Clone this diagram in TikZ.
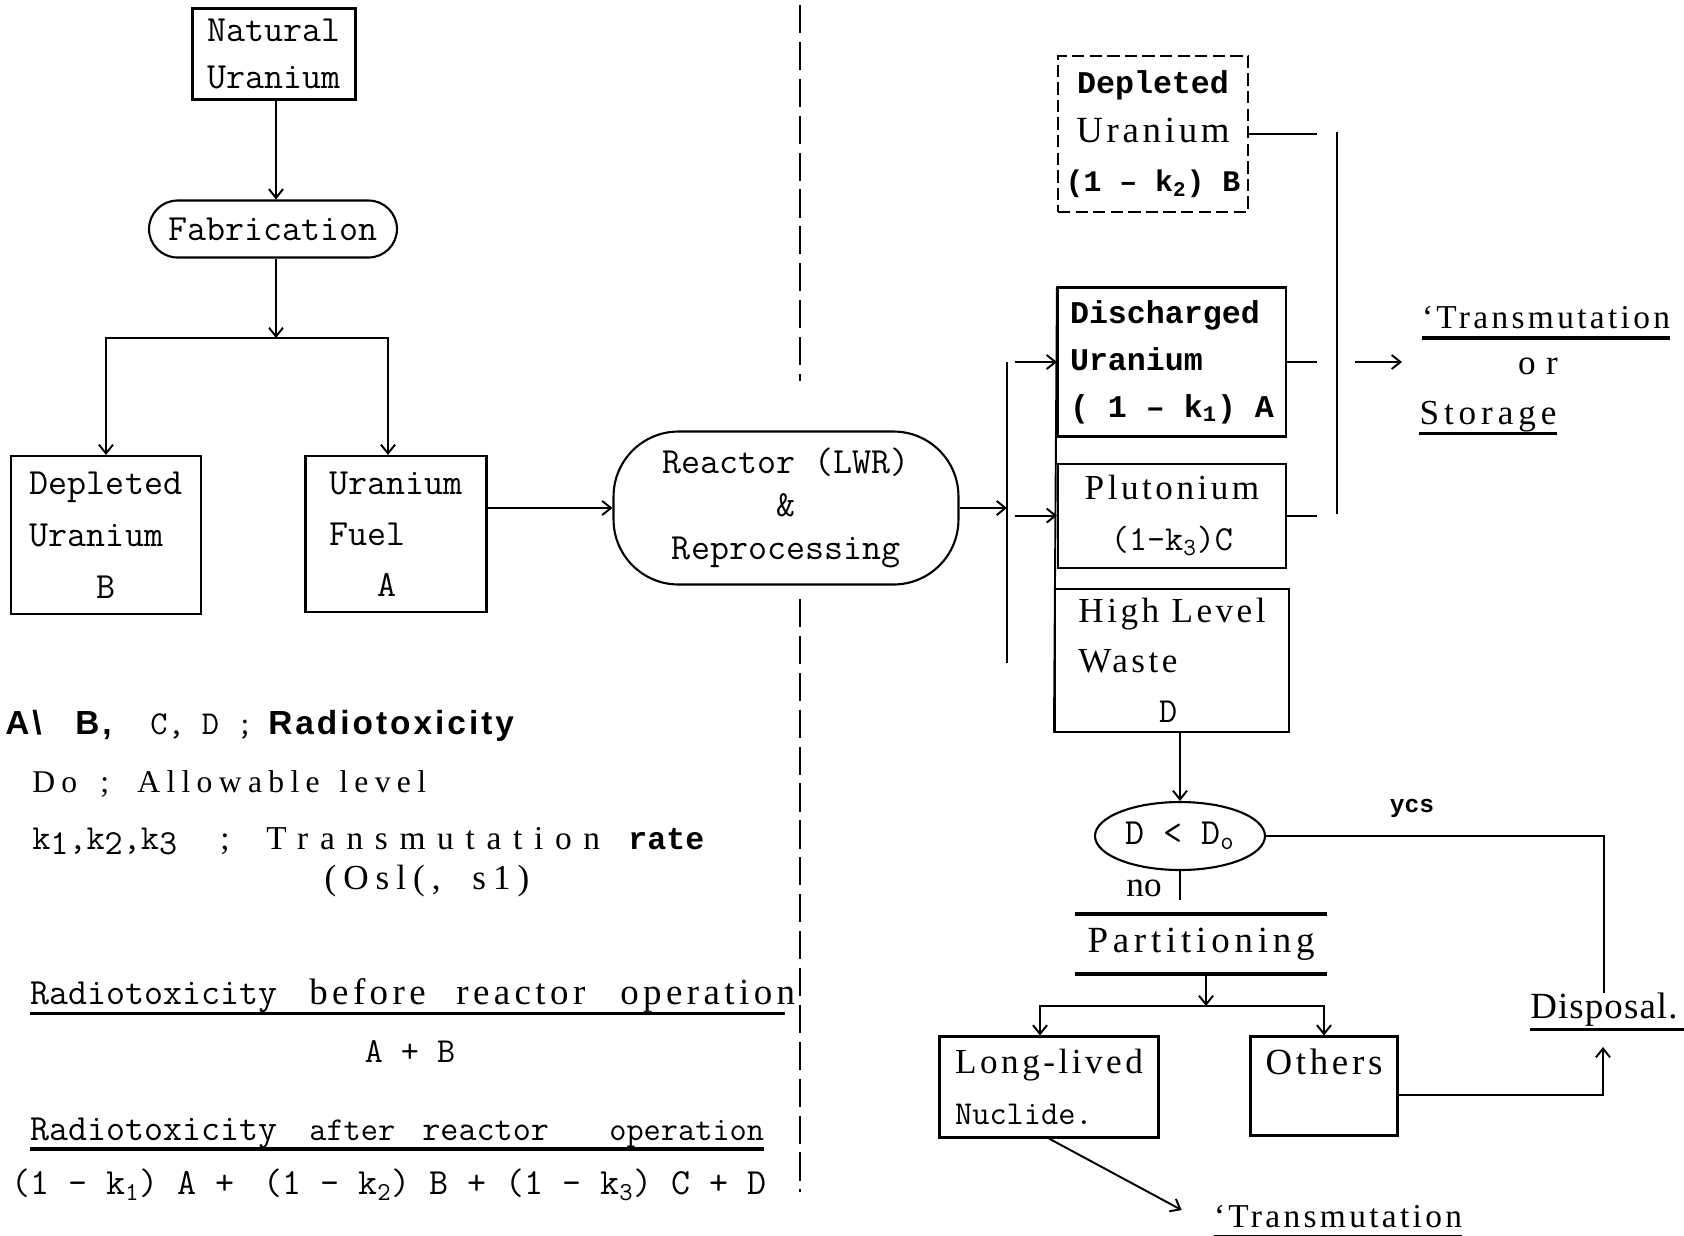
\documentclass[tikz,border=0pt]{standalone}
\usepackage{fontspec}
\setmainfont{Liberation Serif}
\newfontfamily\spacedrm{Liberation Serif}[LetterSpace=10]
\newfontfamily\sansbf{Liberation Sans}[LetterSpace=9]
\newfontfamily\monobf{Liberation Mono}
\usetikzlibrary{shapes.geometric, arrows.meta, positioning}

\newdimen\pxunit \pxunit=0.02cm
\newcommand{\pxbox}[2]{\makebox[#1\pxunit][l]{#2}}
\newcommand{\twf}[2]{\fontsize{#1}{#2}\selectfont\ttfamily}
\newcommand{\rmf}[2]{\fontsize{#1}{#2}\selectfont\spacedrm}
\newcommand{\tbf}[2]{\fontsize{#1}{#2}\selectfont\monobf\bfseries}
\newcommand{\lowsub}[1]{\raisebox{-0.35ex}{#1}}

\begin{document}
\begin{tikzpicture}[x=0.02cm, y=-0.02cm]
\tikzstyle{box}=[rectangle, draw=black, line width=1.2pt, inner sep=0pt, align=center]
\tikzstyle{txt}=[inner sep=0pt]
\tikzstyle{arrow}=[line width=1.1pt, -{Straight Barb[length=5pt, width=8pt]}]
\tikzstyle{wire}=[line width=1.1pt]
\tikzstyle{uline}=[line width=2pt]

\useasboundingbox (0,0) rectangle (1684,1235);

% fuel preparation
\node (natural) [box, minimum width=3.26cm, minimum height=1.82cm, font=\twf{21}{27}] at (274,54) {Natural\\Uranium};
\node (fab) [box, rounded corners=0.57cm, minimum width=4.96cm, minimum height=1.14cm, font=\twf{21}{27}] at (273,229) {Fabrication};
\node (deplL) [box, minimum width=3.8cm, minimum height=3.16cm, font=\twf{21}{29.5}] at (106,535) {Depleted\\Uranium\phantom{d}\\B};
\node (fuel) [box, minimum width=3.62cm, minimum height=3.12cm, font=\twf{21}{29}] at (396,534) {Uranium\\Fuel\phantom{ium}\\A\phantom{A}};
\node (reactor) [box, rounded corners=1.3cm, minimum width=6.9cm, minimum height=3.06cm, font=\twf{21}{24.4}] at (786,508) {Reactor (LWR)\\\&\\Reprocessing};

\coordinate (split) at (276,338);
\draw [arrow] (natural.south -| split) -- (fab.north -| split);
\draw [arrow] (fab.south -| split) -- (split);
\draw [arrow] (split) -| (deplL.north);
\draw [arrow] (split) -| ([xshift=-0.16cm]fuel.north);
\draw [arrow] (fuel.east |- reactor.west) -- (reactor.west);

% reactor outputs
\coordinate (busTop) at (1007,362);
\coordinate (busBot) at (1007,663);
\draw [wire] (busTop) -- (busBot);
\draw [arrow] (reactor.east) -- (reactor.east -| busTop);

\node (depR) [box, dashed, dash pattern=on 7pt off 3pt, minimum width=3.8cm, minimum height=3.12cm, font=\fontsize{20}{28}\selectfont] at (1153,134) {{\tbf{18}{26}Depleted}\\{\rmf{21}{26}Uranium}\\{\tbf{17}{26}(1 – k\textsubscript{2}) B}};
\node (dis) [box, minimum width=4.56cm, minimum height=2.98cm, align=left, font=\tbf{18}{26.7}] at (1172,362) {Discharged\\Uranium\\( 1 – k\textsubscript{1}) A};
\node (pu) [box, minimum width=4.56cm, minimum height=2.08cm, below=0.5cm of dis, font=\fontsize{20}{29}\selectfont] {{\spacedrm Plutonium}\\{\ttfamily (1-k\textsubscript{3})C}};
\node (hlw) [box, minimum width=4.68cm, minimum height=2.86cm, below=0.38cm of pu, align=left, font=\rmf{20}{28.5}] {High Level\\Waste\\\hspace*{46pt}{\ttfamily D}};
\draw [wire] (dis.north west) -- (hlw.south west);
\draw [arrow, shorten <=0.16cm] (dis.west -| busTop) -- (dis.west);
\draw [arrow, shorten <=0.16cm] (pu.west -| busTop) -- (pu.west);

\coordinate (sideTop) at (1337,132);
\coordinate (sideBot) at (1337,514);
\draw [wire] (sideTop) -- (sideBot);
\draw [wire, shorten >=0.4cm] (depR.east) -- (depR.east -| sideTop);
\draw [wire, shorten >=0.4cm] (dis.east) -- (dis.east -| sideTop);
\draw [wire, shorten >=0.4cm] (pu.east) -- (pu.east -| sideTop);

% transmutation or storage
\node (transR) [txt, font=\rmf{19}{24}] at (1546,318) {‘Transmutation};
\node (orR) [txt, font=\rmf{20}{24}\addfontfeature{LetterSpace=30}] at (1538,366) {or};
\node (storeR) [txt, font=\rmf{20}{24}\addfontfeature{LetterSpace=14}] at (1488,417) {Storage};
\draw [uline] ([yshift=-5pt]transR.base west) -- ([yshift=-5pt]transR.base east);
\draw [uline] ([yshift=-5pt]storeR.base west) -- ([yshift=-5pt]storeR.base east);
\coordinate (storeIn) at (1402,362);
\draw [arrow, shorten <=0.36cm] (dis.east -| sideTop) -- (storeIn);

% high level waste check
\node (test) [ellipse, draw, line width=1.2pt, inner sep=0pt, minimum width=3.4cm, minimum height=1.36cm, font=\twf{21}{24}] at (1180,836) {D < D\textsubscript{o}};
\draw [arrow] (test.north |- hlw.south) -- (test.north);
\node (ycs) [txt, font=\tbf{14}{16}] at (1412,808) {ycs};
\node (no) [txt, font=\fontsize{20}{24}\selectfont] at (1144,888) {no};
\coordinate (noEnd) at (1180,900);
\draw [wire] (test.south) -- (noEnd);

\node (part) [txt, minimum width=5.02cm, minimum height=1.18cm, font=\rmf{21}{24}\addfontfeature{LetterSpace=13}] at (1201,944) {Partitioning};
\draw [uline] (part.north west) -- (part.north east);
\draw [uline] (part.south west) -- (part.south east);

\node (disp) [txt, font=\rmf{21}{24}\addfontfeature{LetterSpace=3}] at (1604,1010) {Disposal.};
\draw [uline] ([yshift=-6pt]disp.base west) -- ([yshift=-6pt, xshift=6pt]disp.base east);
\draw [wire] (test.east) -| (disp.north);

\coordinate (split2) at (1206,1006);
\node (long) [box, minimum width=4.38cm, minimum height=2.02cm, align=left, font=\fontsize{20}{29}\selectfont] at (1049,1087) {{\spacedrm Long-lived}\\{\ttfamily\fontsize{19}{29}\selectfont Nuclide.}};
\node (others) [box, minimum width=2.94cm, minimum height=1.98cm, label={[txt, font=\rmf{21}{24}, anchor=north, yshift=-0.26cm]north:Others}] at (1324,1086) {};
\draw [arrow] (part.south -| split2) -- (split2);
\draw [arrow] (split2) -| ([xshift=-0.18cm]long.north);
\draw [arrow] (split2) -| (others.north);
\coordinate (dispIn) at (1603,1047);
\draw [arrow] ([yshift=-0.18cm]others.east) -| (dispIn);

\node (trans2) [txt, font=\rmf{19}{24}] at (1338,1217) {‘Transmutation};
\draw [uline] ([yshift=-5pt]trans2.base west) -- ([yshift=-5pt]trans2.base east);
\draw [arrow] (long.south) -- ([xshift=-0.64cm, yshift=0.14cm]trans2.west);

% legend and balance
\node (key) [txt, anchor=west, font=\fontsize{19}{24}\selectfont] at (5,726) {\pxbox{70}{\sansbf\bfseries A\textbackslash}\pxbox{75}{\sansbf\bfseries B,}\pxbox{118}{\ttfamily\fontsize{19}{22}\selectfont C, D ;}{\sansbf\bfseries Radiotoxicity}};
\node (allow) [txt, anchor=west, font=\rmf{18}{24}\addfontfeature{LetterSpace=20}] at (32,784) {\pxbox{68}{Do}\pxbox{37}{;}\pxbox{202}{Allowable}level};
\node (rate) [txt, anchor=west, font=\rmf{19}{24}] at (32,841) {\pxbox{188}{\ttfamily\fontsize{20}{24}\selectfont k\lowsub{1},k\lowsub{2},k\lowsub{3}}\pxbox{46}{;}\pxbox{362}{\addfontfeature{LetterSpace=35}Transmutation}{\tbf{18}{24}rate}};
\node (range) [txt, font=\rmf{20}{24}\addfontfeature{LetterSpace=20}] at (427,881) {(Osl(,\ \ s1)};

\node (before) [txt, anchor=west, font=\rmf{21}{24}\addfontfeature{LetterSpace=12}] at (30,996) {\pxbox{279}{\ttfamily Radiotoxicity}\pxbox{147}{before}\pxbox{164}{reactor}operation};
\draw [uline] ([yshift=-5pt]before.base west) -- ([yshift=-5pt, xshift=-0.2cm]before.base east);
\node (sumAB) [txt, font=\twf{20}{24}] at (410,1052) {A + B};
\node (after) [txt, anchor=west, font=\twf{19}{24}] at (30,1133) {\pxbox{279}{\fontsize{21}{24}\selectfont Radiotoxicity}\pxbox{113}{after}\pxbox{187}{\fontsize{20}{24}\selectfont reactor}operation};
\draw [uline] ([yshift=-5pt]after.base west) -- ([yshift=-5pt]after.base east);
\node (sumAll) [txt, anchor=west, font=\twf{21}{24}] at (11,1185) {\pxbox{252}{(1 – k\textsubscript{1}) A +}\pxbox{242}{(1 – k\textsubscript{2}) B +}(1 – k\textsubscript{3}) C + D};

% divider, broken behind the reactor
\draw [dashed, line width=1.2pt, dash pattern=on 16pt off 5pt] (800,5) -- (800,381);
\draw [dashed, line width=1.2pt, dash pattern=on 16pt off 5pt] (800,599) -- (800,1192);
\end{tikzpicture}
\end{document}
